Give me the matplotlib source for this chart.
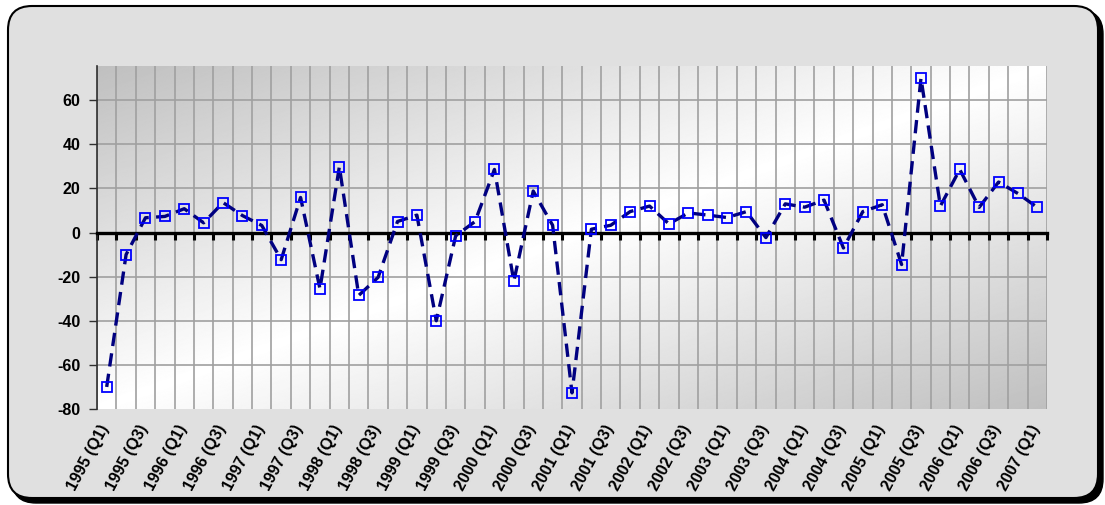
#!/usr/bin/env python3
"""
Quarterly change chart, 1995 (Q1) - 2007 (Q1)
"""

import matplotlib
matplotlib.use("Agg")
import matplotlib.pyplot as plt
from matplotlib.patches import FancyBboxPatch
from matplotlib.transforms import IdentityTransform
import numpy as np

years = list(range(1995, 2008))
quarters = [f"{y} (Q{q})" for y in years for q in range(1, 5)][:49]

values = [-70, -10, 6.7, 7.3, 10.8, 4.4, 13.6, 7.7, 3.2, -12.3,
          15.9, -25.5, 29.8, -28.5, -20.3, 5.0, 7.9, -40, -1.5, 5.0,
          28.6, -22.1, 18.8, 3.3, -72.7, 1.5, 3.3, 9.5, 12.0, 3.9,
          8.9, 7.9, 6.8, 9.5, -2.3, 13.0, 11.5, 14.7, -7.0, 9.5,
          12.6, -14.5, 70, 12.0, 28.6, 11.4, 22.9, 17.7, 11.4]

y_ticks = [-80, -60, -40, -20, 0, 20, 40, 60]

plt.rcParams['font.family'] = ['Liberation Sans', 'DejaVu Sans']

fig = plt.figure(figsize=(11.05, 5.05), dpi=100)
fig.patch.set_facecolor('white')

# frame with shadow (pixel coordinates)
shadow = FancyBboxPatch((12, 2), 1091, 493, boxstyle="round,pad=0,rounding_size=24",
                        transform=IdentityTransform(), facecolor='black',
                        edgecolor='black', zorder=0)
panel = FancyBboxPatch((8, 7), 1090, 492, boxstyle="round,pad=0,rounding_size=24",
                       transform=IdentityTransform(), facecolor='#e0e0e0',
                       edgecolor='black', linewidth=1.5, zorder=1)
fig.patches.extend([shadow, panel])

ax = fig.add_axes([97 / 1105, 1 - 409 / 505, 950 / 1105, 343 / 505])
ax.set_zorder(2)

n = len(values)
x = np.arange(n)
ax.set_xlim(-0.5, n - 0.5)
ax.set_ylim(-80, 75.5)

# diagonal grey-white-grey gradient for the plot area
gx, gy = np.meshgrid(np.linspace(0, 1, 1000), np.linspace(0, 1, 400))
shade = 1 - 0.25 * np.abs(gx + gy - 1)
ax.imshow(shade, cmap='gray', vmin=0, vmax=1, aspect='auto',
          extent=(-0.5, n - 0.5, -80, 75.5), origin='upper', zorder=0,
          interpolation='bilinear')

# grid
for b in np.arange(n + 1) - 0.5:
    ax.axvline(b, color='#a0a0a0', lw=1.2, zorder=1)
for t in y_ticks[1:]:
    ax.axhline(t, color='#a0a0a0', lw=1.2, zorder=1)

# zero axis with tick marks
ax.spines['bottom'].set_position(('data', 0))
ax.spines['bottom'].set_linewidth(2.4)
ax.spines['bottom'].set_zorder(3)
ax.set_xticks(np.arange(n + 1) - 0.5)
ax.set_xticklabels([])
ax.tick_params(axis='x', direction='out', length=5, width=2.2, color='black')

for s in ['top', 'right']:
    ax.spines[s].set_visible(False)
ax.spines['left'].set_color('#303030')
ax.spines['left'].set_linewidth(1.2)

ax.set_yticks(y_ticks)
ax.set_yticklabels([str(t) for t in y_ticks], fontsize=11.5, fontweight='bold')
ax.tick_params(axis='y', direction='out', length=6, width=1, color='#303030', pad=6)

ax.plot(x, values, color='#000080', lw=2.4, linestyle=(0, (4, 2.2)),
        marker='s', markersize=7, markerfacecolor='none',
        markeredgecolor='#0000ff', markeredgewidth=1.3, zorder=4,
        clip_on=False)

# category labels every other quarter
for i in range(0, n, 2):
    ax.text(i - 0.05, -0.05, quarters[i], transform=ax.get_xaxis_transform(),
            rotation=62, rotation_mode='anchor', ha='right', va='center',
            fontsize=11.5, fontweight='bold')

fig.savefig('out.png', dpi=100)
